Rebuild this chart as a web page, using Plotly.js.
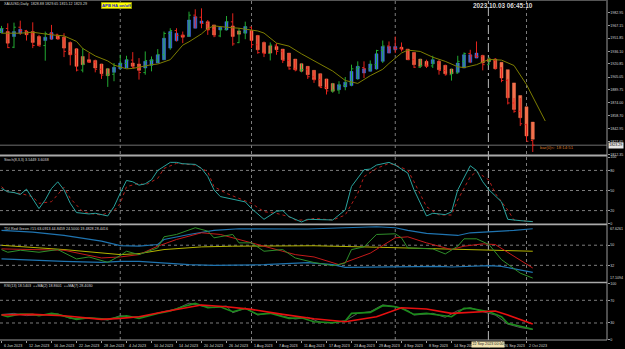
<!DOCTYPE html>
<html><head><meta charset="utf-8">
<script src="https://cdn.plot.ly/plotly-3.0.1.min.js"></script>
<style>html,body{margin:0;padding:0;background:#000;overflow:hidden}#chart{width:625px;height:349px}</style>
</head><body><div id="chart"></div>
<script>
// ---------- DATA ----------
const headerText = "XAUUSD,Daily  1828.88 1829.65 1815.12 1823.29";
const clockText = "2023.10.03 06:45:10";
const barTimerText = "bar(0)<: 18:14:51";
const lastPrice = 1823.29;

const barOpen = [1960,1963.5,1941,1965,1961,1957,1943,1943,1957.5,1956.5,
1951,1936,1932.5,1913.5,1924,1923,1914.5,1907.5,1908.5,1919,
1921.5,1925.5,1916.5,1910.5,1925,1925.5,1932,1957.5,1961,1955,
1954.5,1979.5,1977,1969.5,1962,1954.5,1962,1971.5,1946.5,1959,
1965,1944,1934.5,1933.5,1943.5,1936,1925,1915,1913.5,1914,
1905.5,1902,1892.5,1888.5,1889.5,1895,1898,1915,1916.5,1915,
1920,1937,1942.5,1940,1939.5,1938,1926,1917,1919.5,1918.5,
1922,1913,1908,1910,1924,1933.5,1930.5,1930,1920,1925,
1916,1901,1874,1864,1848,1828.88];
const barHigh = [1966.6,1969.7,1970.5,1972.9,1961.8,1970.9,1955.8,1959.8,1967.8,1957.0,
1957.8,1947.9,1939.9,1939.9,1933.9,1926.0,1921.0,1916.0,1922.0,1931.9,
1930.7,1935.1,1927.9,1935.9,1929.9,1938.7,1959.8,1963.8,1963.8,1959.8,
1983.7,1986.5,1987.7,1973.7,1967.8,1965.8,1978.5,1981.7,1963.8,1971.7,
1965.8,1955.8,1947.9,1946.7,1945.9,1938.7,1934.0,1926.7,1921.2,1918.0,
1913.2,1909.2,1903.0,1898.1,1900.1,1905.2,1920.0,1924.0,1924.0,1925.1,
1937.9,1949.0,1947.9,1953.8,1946.7,1938.7,1934.7,1927.0,1926.0,1930.7,
1926.0,1920.0,1915.2,1930.7,1934.7,1937.9,1947.9,1931.9,1929.0,1928.0,
1917.0,1903.0,1880.0,1880.0,1849.0,1829.65];
const barLow = [1957.8,1939.9,1939.9,1955.8,1949.0,1939.9,1941.9,1924.8,1949.9,1949.9,
1929.1,1919.2,1912.0,1910.8,1922.0,1910.8,1902.9,1893.3,1900.1,1914.0,
1916.0,1916.0,1902.1,1908.0,1912.0,1922.0,1925.9,1937.9,1947.9,1945.9,
1953.8,1963.8,1963.8,1955.8,1953.0,1953.0,1961.0,1942.7,1945.9,1950.6,
1939.9,1933.1,1929.1,1925.1,1931.9,1922.0,1914.0,1912.0,1910.8,1902.9,
1898.1,1892.1,1884.2,1886.2,1885.0,1889.3,1894.1,1902.0,1904.0,1912.0,
1914.0,1922.0,1933.9,1933.9,1935.9,1925.9,1916.0,1916.0,1916.0,1916.0,
1908.0,1906.8,1900.9,1909.2,1916.0,1921.9,1927.9,1913.2,1919.9,1914.0,
1898.9,1872.2,1862.2,1846.3,1828.4,1815.12];
const barClose = [1963.5,1940.5,1965,1961,1957,1943,1942.5,1957.5,1956.5,1951,
1936,1932.5,1913.5,1920.5,1923,1914.5,1907.5,1908.5,1919,1921.5,
1925.5,1916.5,1910.5,1925,1925.5,1932,1957.5,1961,1955,1954.5,
1979.5,1977,1969.5,1962,1954.5,1962,1971.5,1945,1959,1965,
1944,1934.5,1933.5,1943.5,1936,1925,1915,1913.5,1914,1905.5,
1902,1892.5,1888.5,1889.5,1895,1898,1915,1916.5,1915,1920,
1937,1942.5,1940,1939.5,1938,1926,1917,1919,1918.5,1922,
1913,1908,1910,1924,1933.5,1930.5,1930,1920,1925,1916,
1901,1874,1864,1849,1828,1823.29];

// APB Heikin-Ashi bodies
const haOpen = [1958.5,1959.8,1953.8,1957.8,1960.0,1959.8,1953.8,1949.0,1950.6,1955.0,
1953.0,1946.7,1939.1,1929.9,1926.0,1925.1,1920.8,1915.2,1910.8,1915.2,
1916.0,1922.0,1920.8,1916.0,1919.2,1922.0,1925.9,1939.9,1948.7,1955.8,
1953.8,1963.8,1969.7,1971.7,1967.8,1961.8,1961.8,1966.6,1960.6,1957.8,
1961.0,1955.0,1946.7,1942.7,1941.9,1938.7,1933.9,1926.7,1921.2,1918.0,
1913.2,1909.2,1902.9,1897.3,1890.0,1893.3,1894.9,1902.9,1910.0,1912.0,
1914.8,1924.0,1933.9,1937.9,1941.0,1938.7,1934.7,1926.7,1924.0,1921.0,
1924.0,1919.2,1914.8,1910.8,1916.0,1922.8,1927.9,1931.1,1927.0,1926.7,
1922.8,1914.0,1898.1,1882.9,1869.4,1851.0];
const haClose = [1963.5,1945.9,1959.8,1962.6,1956.0,1946.7,1943.9,1953.0,1958.6,1951.0,
1939.9,1931.9,1918.0,1920.0,1923.0,1916.0,1909.2,1906.8,1916.8,1922.0,
1925.9,1918.0,1913.2,1924.0,1925.9,1931.9,1951.8,1959.8,1957.8,1953.0,
1973.7,1977.7,1972.5,1961.8,1955.8,1965.0,1971.7,1953.8,1956.6,1965.8,
1949.0,1937.9,1933.9,1933.9,1937.9,1925.9,1918.0,1914.0,1912.0,1908.0,
1902.1,1894.1,1890.9,1888.1,1896.0,1898.9,1912.0,1918.0,1915.0,1920.8,
1933.1,1941.9,1941.9,1941.9,1938.7,1926.0,1920.0,1918.0,1918.0,1926.0,
1914.0,1909.2,1909.2,1922.0,1931.9,1931.9,1933.9,1922.0,1923.9,1915.2,
1904.0,1880.2,1866.2,1856.3,1834.4,1830.4];

// shifted moving average (bar position, value)
const maX = [0,3,5,8,10,12,13,15,17,18,20,21,24,25,27,29,30,32,33,34,36,38,41,42,44,46,48,50,53,55,57,59,61,62,64,65,67,69,71,73,74,76,78,80,82,84,85,86,87];
const maY = [1957.8,1957.8,1959.0,1955.8,1954.6,1948.0,1939.5,1930.5,1924.5,1919.5,1915.0,1915.5,1920.0,1920.8,1926.0,1943.5,1947.5,1957.0,1963.5,1966.6,1965.0,1963.8,1960.5,1958.0,1945.9,1942.3,1933.0,1924.5,1912.3,1901.0,1897.5,1906.8,1914.5,1921.5,1934.0,1937.5,1935.9,1929.0,1924.0,1917.5,1916.5,1920.0,1926.3,1925.5,1919.0,1896.1,1882.0,1867.0,1852.3];

// Stochastic
const stochMainX = [0,1,2,3,4,5,6,7,8,9,10,11,12,14,15,17,18,19,20,21,22,23,24,25,27,28,29,31,32,33,34,35,37,39,40,42,44,45,46,48,49,51,53,55,56,58,59,60,62,63,65,66,68,69,71,72,73,75,76,77,78,80,81,83,85];
const stochMainY = [53,48,47,44,52,38,23,36,53,63,51,31,17,15,16,12,26,46,65,63,58,60,66,80,92,92,90,89,83,71,51,41,37,33,23,7,19,20,11,3,7,7,6,21,56,81,82,88,92,88,76,51,12,16,14,18,51,87,80,63,51,33,7,5,3.5];
const stochSigX = [0,1,3,5,6,8,10,11,13,14,16,18,19,20,22,23,25,26,28,30,31,33,34,36,38,40,42,44,46,47,49,50,53,55,57,58,60,62,63,65,66,68,70,72,73,75,76,78,79,81,82,85];
const stochSigY = [55.7,48,45.7,40.7,30.8,33.3,54.7,38.3,18.4,15.9,13.4,19.9,30.8,55.7,60.7,58.2,68.1,83,90.5,89,88,78.1,55.7,45.7,38.3,30.8,18.4,15.9,10.9,5.9,5.9,8.4,5.9,13.4,45.7,70.6,83,90.5,88,80.5,63.1,25.8,13.4,13.4,35.8,70.6,78.1,65.6,45.7,20.9,5.9,3.6];
const stochLevels = [80,50,20];
const stochTicks = [0,20,50,80,100];

// TDI
const tdiUpX = [0,5,10,16,19,22,25,26,30,34,38,42,49,55,60,63,65,68,71,73,75,78,80,82,85];
const tdiUpY = [63.2,61.7,58.7,53.6,49.7,49.1,50.6,55.1,59.6,63.2,64.7,64.7,64.5,65.6,66.5,65.6,63.2,60.5,59.6,58.7,61.1,61.7,62.6,63.2,64.7];
const tdiLoX = [0,5,10,16,19,22,26,30,34,38,42,49,53,55,60,65,70,72,78,80,82,85];
const tdiLoY = [37.7,36.5,35.6,34.7,35.6,35.6,34.1,32.6,32,32,32.6,34.5,32.6,30.2,30.5,30.5,31.1,30.5,31.7,31.1,28.7,25.7];
const tdiMidX = [0,10,19,22,26,32,37,50,60,70,78,85];
const tdiMidY = [49.9,46.1,41.6,42.5,46.1,48.5,49.1,49.5,48.2,46.7,46.1,44.6];
const tdiRedX = [0,5,10,16,19,22,25,28,32,35,38,42,47,50,54,59,63,65,68,72,74,77,79,82,85];
const tdiRedY = [46.7,46.1,45.5,38.6,39.5,41.6,49.1,55.1,61.1,59.6,55.1,49.1,41.6,39.5,32.6,42.9,56.6,57.5,52.1,46.1,49.1,51.2,50.6,40.1,29.6];
const tdiGreenX = [0,1,3,6,9,12,14,17,19,20,22,25,26,28,31,33,34,37,38,40,42,45,47,50,53,55,56,58,60,63,64,65,69,71,73,74,76,78,80,83,85];
const tdiGreenY = [46.1,43.7,45.5,43.7,46.1,37.7,39.5,34.7,40.7,44.6,41.6,47.6,57.5,59.6,65.6,62.6,56.6,59.6,52.1,52.1,44.6,46.1,38.6,34.5,31.7,34.1,46.1,48.5,59.6,60.2,56.6,47.6,46.7,42.2,49.1,55.7,55.7,50.6,37.1,25,20.6];
const tdiLevels = [50,32];
const tdiMax = 67.6261, tdiMin = 17.1094;

// RSI
const rsiLineX = [0,2,4,7,9,11,13,15,17,19,21,23,26,28,30,32,34,36,37,39,41,43,45,47,49,51,53,55,57,59,61,63,65,66,69,71,73,75,77,79,81,83,85];
const rsiLineY = [45,47,43,45,46,38,38,38,35,43,40,42,50,55,65,60,57,60,48,56,44,48,42,37,40,31,30,34,47,50,62,59,52,44,47,40,52,57,50,44,28,22,18.5];
const rsiGreenX = [0,1,3,5,6,8,9,12,14,17,19,20,22,25,27,29,31,33,35,37,39,41,43,46,48,50,53,55,56,59,61,63,64,66,68,72,74,75,78,80,81,83,85];
const rsiGreenY = [44,41.1,45.8,45.2,42.8,46.9,45.2,36.4,39.3,36.4,41.1,42.8,38.1,46.9,51.1,58.7,64.6,56.9,58.7,49.9,55.8,45.2,47,38.1,39.3,32.3,30.5,33.4,46.9,48.7,60.5,58.7,55.8,45.2,47,41.1,55.8,55.8,49.9,41.1,29.3,23.5,18.9];
const rsiRedX = [0,5,10,16,19,22,26,32,36,40,45,50,55,60,64,68,72,76,79,81,85];
const rsiRedY = [44,45.2,42.8,36.4,38.1,41.1,49.9,61.6,58.7,54,45.2,37.5,32.3,41.1,56.9,54.6,47,49.9,51.1,44,28.4];
const rsiLevels = [70,30];
const rsiTicks = [0,30,70,100];

// axes labels
const priceTicks = [1982.95,1967.15,1951.85,1936.10,1920.85,1905.05,1889.75,1874.00,1858.70,1842.95,1827.65,1812.35];
const priceTickText = ["1982.95","1967.15","1951.85","1936.10","1920.85","1905.05","1889.75","1874.00","1858.70","1842.95","1827.65","1812.35"];
const dateIdx = [0,4,8,12,16,20,24,28,32,36,40,44,48,52,56,60,64,68,72,76,80,84];
const dateText = ["6 Jun 2023","12 Jun 2023","16 Jun 2023","22 Jun 2023","28 Jun 2023","4 Jul 2023","10 Jul 2023","14 Jul 2023","20 Jul 2023","26 Jul 2023","1 Aug 2023","7 Aug 2023","11 Aug 2023","17 Aug 2023","23 Aug 2023","29 Aug 2023","4 Sep 2023","8 Sep 2023","14 Sep 2023","20 Sep 2023","26 Sep 2023","2 Oct 2023"];
const monthStarts = [19,40,63,84];
const crossIdx = 77.9;
const crossText = "22 Sep 2023 00:00";

const stochTitle = "Stoch(8,3,3) 3.5449 3.6038";
const tdiTitle = "TDI Red Green #15 63.0913 44.8459 24.5000 19.4828 28.4416";
const rsiTitle = "RSI(13) 18.5403  ++MA(2) 18.8601  ++MA(7) 28.4030";

// ---------- CHART ----------
const FONT = 'Liberation Sans, Arial, sans-serif';
const idx = barOpen.map((_, i) => i);
const haHigh = haOpen.map((o, i) => Math.max(o, haClose[i]));
const haLow = haOpen.map((o, i) => Math.min(o, haClose[i]));

function line(x, y, ya, color, width, dash) {
  return {type:'scatter', mode:'lines', x:x, y:y, xaxis:'x', yaxis:ya,
    line:{color:color, width:width, dash:dash||'solid'}, hoverinfo:'skip'};
}

const traces = [
  {type:'candlestick', x:idx, open:haOpen, high:haHigh, low:haLow, close:haClose,
   xaxis:'x', yaxis:'y', whiskerwidth:0, hoverinfo:'skip',
   increasing:{fillcolor:'#3e6fe0', line:{color:'#3e6fe0', width:0.5}},
   decreasing:{fillcolor:'#f2704c', line:{color:'#f2704c', width:0.5}}},
  {type:'ohlc', x:idx, open:barOpen, high:barHigh, low:barLow, close:barClose,
   xaxis:'x', yaxis:'y', tickwidth:0.3, hoverinfo:'skip',
   increasing:{line:{color:'#22a832', width:1}},
   decreasing:{line:{color:'#e4231c', width:1}}},
  line(maX, maY, 'y', '#7d7d00', 1),
  line(stochSigX, stochSigY, 'y2', '#b01e1a', 1, 'dot'),
  line(stochMainX, stochMainY, 'y2', '#29a39d', 1),
  line(tdiUpX, tdiUpY, 'y3', '#1f74b0', 1.2),
  line(tdiLoX, tdiLoY, 'y3', '#1f74b0', 1.2),
  line(tdiMidX, tdiMidY, 'y3', '#b4b400', 1),
  line(tdiRedX, tdiRedY, 'y3', '#c41a1a', 1),
  line(tdiGreenX, tdiGreenY, 'y3', '#2f8f2a', 1),
  line(rsiLineX, rsiLineY, 'y4', '#6e6e6e', 0.8),
  line(rsiGreenX, rsiGreenY, 'y4', '#1b8c1b', 1.6),
  line(rsiRedX, rsiRedY, 'y4', '#e81010', 1.6)
];

const tickFont = {size:3.6, color:'#d8d8d8', family:FONT};
function yax(domain, range, tickvals, ticktext) {
  return {domain:domain, range:range, side:'right', anchor:'x', tickvals:tickvals,
    ticktext:ticktext, ticks:'outside', ticklen:1.5, tickcolor:'#9a9a9a', tickfont:tickFont,
    showgrid:false, zeroline:false, showline:false, fixedrange:true};
}

const gridCol = '#7c7c7c';
const shapes = [];
monthStarts.forEach(m => shapes.push({type:'line', xref:'x', yref:'paper', x0:m, x1:m, y0:0, y1:1,
  line:{color:gridCol, width:1, dash:'dot'}, layer:'below'}));
shapes.push({type:'line', xref:'x', yref:'paper', x0:crossIdx, x1:crossIdx, y0:0, y1:1,
  line:{color:'#b8b8b8', width:1, dash:'dashdot'}, layer:'below'});
stochLevels.forEach(v => shapes.push({type:'line', xref:'paper', yref:'y2', x0:0, x1:1, y0:v, y1:v,
  line:{color:gridCol, width:1, dash:'dot'}, layer:'below'}));
tdiLevels.forEach(v => shapes.push({type:'line', xref:'paper', yref:'y3', x0:0, x1:1, y0:v, y1:v,
  line:{color:gridCol, width:1, dash:'dot'}, layer:'below'}));
rsiLevels.forEach(v => shapes.push({type:'line', xref:'paper', yref:'y4', x0:0, x1:1, y0:v, y1:v,
  line:{color:gridCol, width:1, dash:'dot'}, layer:'below'}));
shapes.push({type:'line', xref:'paper', yref:'y', x0:0, x1:1, y0:lastPrice, y1:lastPrice,
  line:{color:'#707070', width:1}, layer:'below'});
// panel separators and frame
[[0.5397,0.5456],[0.3376,0.3426],[0.1668,0.1715]].forEach(s => shapes.push({type:'rect',
  xref:'paper', yref:'paper', x0:0, x1:1, y0:s[0], y1:s[1], fillcolor:'#a9a9a9', line:{width:0}}));
shapes.push({type:'line', xref:'paper', yref:'paper', x0:1, x1:1, y0:0, y1:1, line:{color:'#9a9a9a', width:1}});
shapes.push({type:'line', xref:'paper', yref:'paper', x0:0, x1:1, y0:0, y1:0, line:{color:'#9a9a9a', width:1}});
shapes.push({type:'line', xref:'paper', yref:'paper', x0:0, x1:1, y0:0.9985, y1:0.9985, line:{color:'#555555', width:1}});

function py(pix) { return (340 - pix) / 340; }
const small = {size:3.7, color:'#d8d8d8', family:FONT};
const annotations = [
  {xref:'paper', yref:'paper', x:0.003, y:py(4.5), xanchor:'left', yanchor:'middle', text:headerText, showarrow:false, font:small},
  {xref:'paper', yref:'paper', x:116.3/607, y:py(5.8), xanchor:'center', yanchor:'middle', text:'<b>APB HA on/off</b>',
   showarrow:false, bgcolor:'#ffff00', bordercolor:'#8a8a00', borderwidth:0.6, borderpad:0.5,
   font:{size:4.2, color:'#1a1ad0', family:FONT}},
  {xref:'paper', yref:'paper', x:503/607, y:py(5.8), xanchor:'center', yanchor:'middle', text:'<b>'+clockText+'</b>',
   showarrow:false, font:{size:6.4, color:'#d8d8d8', family:FONT}},
  {xref:'paper', yref:'paper', x:538/607, y:py(147.7), xanchor:'left', yanchor:'middle', text:barTimerText,
   showarrow:false, font:{size:4.3, color:'#d97a2b', family:FONT}},
  {xref:'paper', yref:'y', x:1, y:lastPrice, xanchor:'left', yanchor:'middle', xshift:0.5, text:lastPrice.toFixed(2),
   showarrow:false, bgcolor:'#e6e6e6', borderpad:0.3, font:{size:3.6, color:'#000000', family:FONT}},
  {xref:'paper', yref:'paper', x:0.003, y:py(160), xanchor:'left', yanchor:'middle', text:stochTitle, showarrow:false, font:small},
  {xref:'paper', yref:'paper', x:0.003, y:py(228.5), xanchor:'left', yanchor:'middle', text:tdiTitle, showarrow:false, font:small},
  {xref:'paper', yref:'paper', x:0.003, y:py(286.3), xanchor:'left', yanchor:'middle', text:rsiTitle, showarrow:false, font:small},
  {xref:'paper', yref:'y3', x:1, y:tdiMax, xanchor:'left', yanchor:'top', xshift:1, text:tdiMax.toFixed(4), showarrow:false,
   font:{size:3.6, color:'#d8d8d8', family:FONT}},
  {xref:'paper', yref:'y3', x:1, y:tdiMin, xanchor:'left', yanchor:'bottom', xshift:1, text:tdiMin.toFixed(4), showarrow:false,
   font:{size:3.6, color:'#d8d8d8', family:FONT}}
];
dateIdx.forEach((d, i) => annotations.push({xref:'x', yref:'paper', x:d, y:0, xanchor:'left', yanchor:'top',
  yshift:-1.5, text:dateText[i], showarrow:false, font:small}));
annotations.push({xref:'x', yref:'paper', x:crossIdx, y:0, xanchor:'center', yanchor:'top', yshift:-1.2,
  text:crossText, showarrow:false, bgcolor:'#efe2b0', borderpad:0.4,
  font:{size:3.7, color:'#222222', family:FONT}});

const layout = {
  width:625, height:349,
  margin:{l:0, r:18, t:0, b:9, pad:0},
  paper_bgcolor:'#000000', plot_bgcolor:'#000000',
  showlegend:false, boxgap:0.3,
  font:{family:FONT, size:5, color:'#d8d8d8'},
  xaxis:{range:[-0.24, 96.88], domain:[0,1], anchor:'y4', showgrid:false, zeroline:false, showline:false,
    tickvals:dateIdx, ticks:'outside', ticklen:2, tickcolor:'#9a9a9a', showticklabels:false,
    rangeslider:{visible:false}, fixedrange:true},
  yaxis: yax([0.5456,0.9941], [1812.1,1995.3], priceTicks, priceTickText),
  yaxis2: yax([0.3412,0.5382], [0,100], stochTicks, stochTicks.map(String)),
  yaxis3: yax([0.1706,0.3368], [tdiMin, tdiMax], tdiLevels, tdiLevels.map(String)),
  yaxis4: yax([0,0.1668], [0,100], rsiTicks, rsiTicks.map(String)),
  shapes:shapes, annotations:annotations
};

Plotly.newPlot('chart', traces, layout, {staticPlot:true, displayModeBar:false});
</script>
</body></html>
